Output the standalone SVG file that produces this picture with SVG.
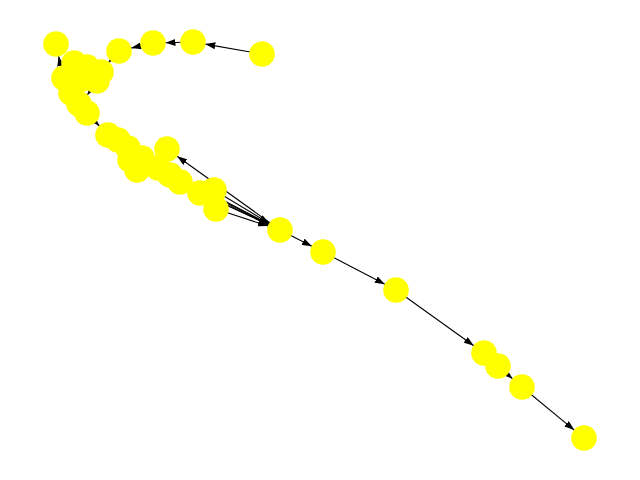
<svg xmlns="http://www.w3.org/2000/svg" width="640" height="480" viewBox="0 0 640 480">
<style>
.e{stroke:#000;stroke-width:1.1;fill:none;marker-end:url(#ah)}
.n circle{fill:#ffff00;stroke:none}
</style>
<defs>
<marker id="ah" markerUnits="userSpaceOnUse" markerWidth="10" markerHeight="7" refX="10" refY="3.5" orient="auto">
<path d="M0,0 L10,3.5 L0,7 z" fill="#000"/>
</marker>
</defs>
<rect width="640" height="480" fill="#fff"/>
<g id="edges">
<line class="e" x1="262" y1="54" x2="205.3" y2="44.1"/>
<line class="e" x1="193" y1="42" x2="165.5" y2="42.7"/>
<line class="e" x1="153" y1="43" x2="131.2" y2="48.1"/>
<line class="e" x1="119" y1="51" x2="108.4" y2="62.7"/>
<line class="e" x1="100" y1="72" x2="98.7" y2="71.5"/>
<line class="e" x1="87" y1="67" x2="84.8" y2="66.2"/>
<line class="e" x1="73" y1="62" x2="66" y2="72"/>
<line class="e" x1="63" y1="77" x2="58.6" y2="56.2"/>
<line class="e" x1="98" y1="80" x2="87.3" y2="94.9"/>
<line class="e" x1="72" y1="92" x2="78" y2="102"/>
<line class="e" x1="80" y1="105" x2="85" y2="110"/>
<line class="e" x1="87" y1="113" x2="99.4" y2="126"/>
<line class="e" x1="108" y1="135" x2="115" y2="138"/>
<line class="e" x1="118" y1="140" x2="125" y2="146"/>
<line class="e" x1="128" y1="148" x2="139" y2="156"/>
<line class="e" x1="142" y1="158" x2="133" y2="160"/>
<line class="e" x1="130" y1="160" x2="135" y2="167"/>
<line class="e" x1="137" y1="170" x2="155" y2="168"/>
<line class="e" x1="158" y1="168" x2="167" y2="173"/>
<line class="e" x1="170" y1="175" x2="177" y2="180"/>
<line class="e" x1="180" y1="182" x2="197" y2="191"/>
<line class="e" x1="200" y1="193" x2="211" y2="191"/>
<line class="e" x1="214" y1="190" x2="215" y2="206"/>
<line class="e" x1="216" y1="209" x2="268.1" y2="226.1"/>
<line class="e" x1="214" y1="190" x2="269.3" y2="223.5"/>
<line class="e" x1="200" y1="193" x2="268.6" y2="224.8"/>
<line class="e" x1="180" y1="182" x2="268.7" y2="224.6"/>
<line class="e" x1="158" y1="168" x2="268.8" y2="224.3"/>
<line class="e" x1="142" y1="158" x2="268.9" y2="224.2"/>
<line class="e" x1="280" y1="230" x2="177.2" y2="156.3"/>
<line class="e" x1="280" y1="230" x2="311.9" y2="246.3"/>
<line class="e" x1="323" y1="252" x2="384.9" y2="284.2"/>
<line class="e" x1="396" y1="290" x2="473.8" y2="345.7"/>
<line class="e" x1="484" y1="353" x2="495" y2="363"/>
<line class="e" x1="498" y1="366" x2="512.6" y2="378.8"/>
<line class="e" x1="522" y1="387" x2="574.3" y2="430.1"/>
</g>
<g class="n">
<g id="n0"><circle cx="262" cy="54" r="12.8"/></g>
<g id="n1"><circle cx="193" cy="42" r="12.8"/></g>
<g id="n2"><circle cx="153" cy="43" r="12.8"/></g>
<g id="n3"><circle cx="119" cy="51" r="12.8"/></g>
<g id="n4"><circle cx="56" cy="44" r="12.8"/></g>
<g id="n5"><circle cx="74" cy="63" r="12.8"/></g>
<g id="n6"><circle cx="87" cy="67" r="12.8"/></g>
<g id="n7"><circle cx="101" cy="72" r="12.8"/></g>
<g id="n8"><circle cx="64" cy="78" r="12.8"/></g>
<g id="n33"><circle cx="82" cy="79" r="12.8"/></g>
<g id="n9"><circle cx="97" cy="81" r="12.8"/></g>
<g id="n10"><circle cx="71" cy="93" r="12.8"/></g>
<g id="n11"><circle cx="79" cy="104" r="12.8"/></g>
<g id="n12"><circle cx="87" cy="113" r="12.8"/></g>
<g id="n13"><circle cx="108" cy="135" r="12.8"/></g>
<g id="n14"><circle cx="118" cy="140" r="12.8"/></g>
<g id="n15"><circle cx="128" cy="148" r="12.8"/></g>
<g id="n16"><circle cx="142" cy="158" r="12.8"/></g>
<g id="n17"><circle cx="130" cy="160" r="12.8"/></g>
<g id="n18"><circle cx="137" cy="170" r="12.8"/></g>
<g id="n19"><circle cx="167" cy="149" r="12.8"/></g>
<g id="n20"><circle cx="158" cy="168" r="12.8"/></g>
<g id="n21"><circle cx="170" cy="175" r="12.8"/></g>
<g id="n22"><circle cx="180" cy="182" r="12.8"/></g>
<g id="n23"><circle cx="200" cy="193" r="12.8"/></g>
<g id="n24"><circle cx="214" cy="190" r="12.8"/></g>
<g id="n25"><circle cx="216" cy="209" r="12.8"/></g>
<g id="n26"><circle cx="280" cy="230" r="12.8"/></g>
<g id="n27"><circle cx="323" cy="252" r="12.8"/></g>
<g id="n28"><circle cx="396" cy="290" r="12.8"/></g>
<g id="n29"><circle cx="484" cy="353" r="12.8"/></g>
<g id="n30"><circle cx="498" cy="366" r="12.8"/></g>
<g id="n31"><circle cx="522" cy="387" r="12.8"/></g>
<g id="n32"><circle cx="584" cy="438" r="12.8"/></g>
</g>
</svg>
